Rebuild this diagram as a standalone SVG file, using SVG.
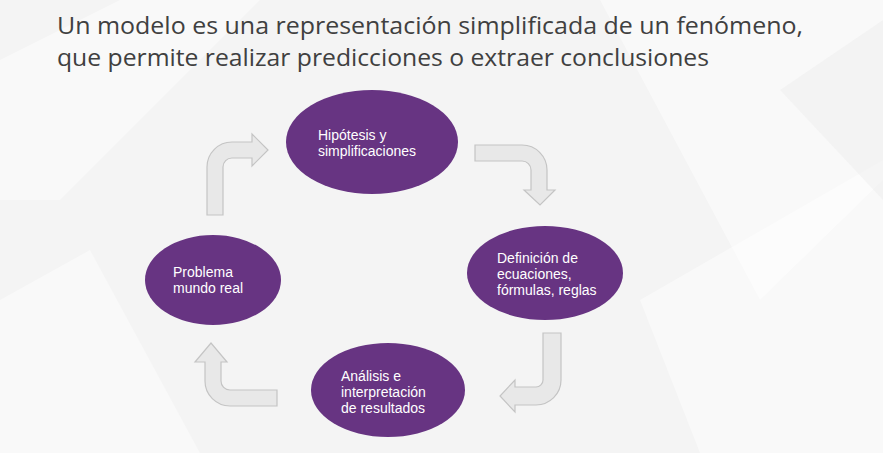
<svg xmlns="http://www.w3.org/2000/svg" width="883" height="453" viewBox="0 0 883 453">
<style>
.title{font-family:"Open Sans","Liberation Sans",sans-serif;font-size:24px;fill:#404040}
.node ellipse{fill:#673482}
.node text{font-family:"Liberation Sans",Arial,sans-serif;font-size:14px;fill:#ffffff}
.arrow{fill:#e8e8e8;stroke:#c4c4c4;stroke-width:1.2;stroke-linejoin:miter}
.bg{fill:#ffffff;opacity:0.45}
</style>
<rect width="883" height="453" fill="#f4f4f4"/>
<g id="background">
<polygon class="bg" points="0,60 120,0 260,0 60,200 0,200"/>
<polygon class="bg" points="600,0 883,0 883,180 760,300"/>
<polygon class="bg" points="640,300 883,160 883,453 700,453"/>
<polygon class="bg" points="0,300 90,250 200,453 0,453"/>
<polygon fill="#ececec" opacity="0.4" points="780,90 883,20 883,200"/>
</g>
<g id="title">
<text class="title" x="57" y="34" textLength="746" lengthAdjust="spacingAndGlyphs">Un modelo es una representación simplificada de un fenómeno,</text>
<text class="title" x="57" y="66" textLength="652" lengthAdjust="spacingAndGlyphs">que permite realizar predicciones o extraer conclusiones</text>
</g>
<g id="connectors">
<path class="arrow" d="M207,215 L207,167 A25,25 0 0 1 232,142 L252,142 L252,134 L268,150 L252,166 L252,158 L232,158 A9,9 0 0 0 223,167 L223,215 Z"/>
<path class="arrow" d="M475,145 L522,145 A25,25 0 0 1 547,170 L547,190 L555,190 L540,205 L524,190 L531,190 L531,170 A9,9 0 0 0 522,161 L475,161 Z"/>
<path class="arrow" d="M543,333 L561,333 L561,380 A25,25 0 0 1 536,405 L515,405 L515,412 L500,396 L515,380 L515,387 L536,387 A7,7 0 0 0 543,380 Z"/>
<path class="arrow" d="M277,406 L230,406 A25,25 0 0 1 205,381 L205,362 L195,362 L211,343 L227,362 L221,362 L221,381 A9,9 0 0 0 230,390 L277,390 Z"/>
</g>
<g id="node-hipotesis" class="node">
<ellipse cx="372" cy="142" rx="86" ry="52"/>
<text x="318" y="140">Hipótesis y</text>
<text x="318" y="156">simplificaciones</text>
</g>
<g id="node-definicion" class="node">
<ellipse cx="545" cy="273" rx="78" ry="47"/>
<text x="497" y="263">Definición de</text>
<text x="497" y="279">ecuaciones,</text>
<text x="497" y="295">fórmulas, reglas</text>
</g>
<g id="node-analisis" class="node">
<ellipse cx="388" cy="390" rx="77" ry="47"/>
<text x="341" y="381">Análisis e</text>
<text x="341" y="397">interpretación</text>
<text x="341" y="413">de resultados</text>
</g>
<g id="node-problema" class="node">
<ellipse cx="213" cy="280" rx="68" ry="45"/>
<text x="173" y="277">Problema</text>
<text x="173" y="293">mundo real</text>
</g>
</svg>
